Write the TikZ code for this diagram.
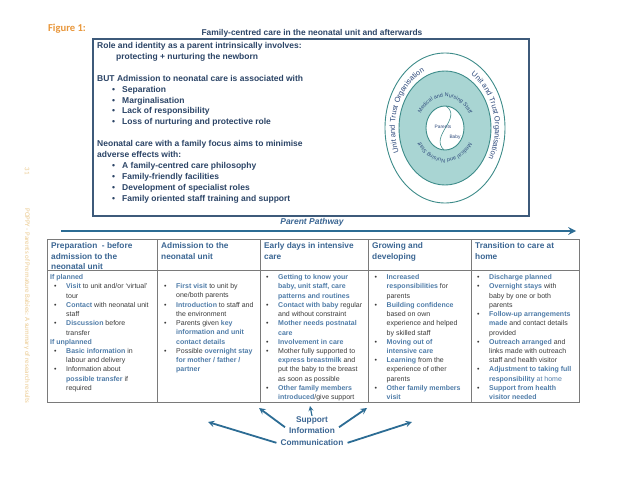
\documentclass[tikz,border=0pt]{standalone}
\usepackage{fontspec}
\setmainfont{Liberation Sans}
\newfontfamily\calfont{Carlito}
\usetikzlibrary{positioning,decorations.text}

\definecolor{navy}{HTML}{2B4466}
\definecolor{frameblue}{HTML}{3D5A7A}
\definecolor{hdrblue}{HTML}{3A6592}
\definecolor{keyblue}{HTML}{4F7CA8}
\definecolor{bodygray}{HTML}{3A3A3A}
\definecolor{gridgray}{HTML}{7A7A7A}
\definecolor{ringteal}{HTML}{3E8C8A}
\definecolor{ringfill}{HTML}{A9D5D3}
\definecolor{ringtext}{HTML}{2E4A7C}
\definecolor{pathblue}{HTML}{2C6C94}
\definecolor{figorange}{HTML}{E8963A}
\definecolor{sidetan}{HTML}{EBCB92}

\newcommand{\kw}[1]{\textcolor{keyblue}{\bfseries #1}}
\newcommand{\bi}{\hspace*{6pt}\makebox[12pt][l]{\textbullet}}
\newcommand{\ci}{\hspace*{18pt}}
\newcommand{\tb}{\hspace*{15pt}\makebox[10pt][l]{\textbullet}}
\newcommand{\rfo}{\fontsize{7.5}{8}\selectfont\color{ringtext}}
\newcommand{\rfi}{\fontsize{5.4}{6}\selectfont\color{ringtext}}

\begin{document}
\begin{tikzpicture}[%
    x=1pt, y=-1pt,
    >=stealth,
    every node/.style={inner sep=0pt},
    boxtext/.style={anchor=north west, align=left, text=navy,
        font=\fontsize{8.5}{10.93}\selectfont\bfseries},
    hdr/.style={anchor=north west, align=left, text=hdrblue,
        font=\fontsize{8.3}{10.8}\selectfont\bfseries},
    cell/.style={anchor=north west, align=left, text=bodygray,
        font=\fontsize{7}{9.23}\selectfont},
    grid/.style={draw=gridgray, line width=0.8pt},
    ring/.style={draw=ringteal, line width=0.9pt},
    flow/.style={->, draw=pathblue, line width=1.8pt},
    hub/.style={text=hdrblue, font=\fontsize{8.3}{10}\selectfont\bfseries,
        inner xsep=4pt, text height=6.2pt, text depth=1.8pt},
    ringlbl/.style={decorate, decoration={text along path,
        text align=center, text={#1}}}
]
\useasboundingbox (0,0) rectangle (638,479);

% margin notes
\node[text=figorange, font=\calfont\fontsize{10.6}{12}\selectfont\bfseries] (fig) at (67,29) {Figure 1:};
\node[rotate=-90, text=sidetan, font=\calfont\fontsize{7}{8}\selectfont] (pageno) at (27,171) {31};
\node[rotate=-90, text=sidetan, font=\calfont\fontsize{7}{8}\selectfont] (source) at (27,306)
    {POPPY - Parents of Premature Babies: A summary of research results};

% title and upper box
\node[text=navy, font=\fontsize{8.4}{10}\selectfont\bfseries] (title) at (312,33)
    {Family-centred care in the neonatal unit and afterwards};
\node[draw=frameblue, line width=1.8pt, anchor=north west,
      minimum width=436pt, minimum height=177pt] (rolebox) at (92,38) {};

\node[boxtext] (role) at (97,41.9)
    {Role and identity as a parent intrinsically involves:\\
     \hspace*{19pt}protecting + nurturing the newborn};
\node[boxtext] (risks) at (97,74.8)
    {BUT Admission to neonatal care is associated with\\
     \tb Separation\\
     \tb Marginalisation\\
     \tb Lack of responsibility\\
     \tb Loss of nurturing and protective role};
\node[boxtext] (aims) at (97,140.6)
    {Neonatal care with a family focus aims to minimise\\
     adverse effects with:\\
     \tb A family-centred care philosophy\\
     \tb Family-friendly facilities\\
     \tb Development of specialist roles\\
     \tb Family oriented staff training and support};

% rings: organisation / staff / family
\begin{scope}[shift={(445,128)}]
  \draw[ring, fill=white] (0,0) ellipse [x radius=60, y radius=75];
  \draw[ring, fill=ringfill] (0,0) ellipse [x radius=46, y radius=57];
  \draw[ring, fill=white] (0,0) ellipse [x radius=19, y radius=22];
  \path[ringlbl={|\rfo|Unit and Trust Organisation}]
    (136:50 and 62) arc [start angle=136, end angle=270, x radius=50, y radius=62];
  \path[ringlbl={|\rfo|Unit and Trust Organisation}]
    (-83:50 and 62) arc [start angle=-83, end angle=51, x radius=50, y radius=62];
  \path[ringlbl={|\rfi|Medical and Nursing Staff}]
    (-170:27 and 31) arc [start angle=-170, end angle=-10, x radius=27, y radius=31];
  \path[ringlbl={|\rfi|Medical and Nursing Staff}]
    (10:27 and 31) arc [start angle=10, end angle=170, x radius=27, y radius=31];
  \draw[ring, line width=0.6pt] (1,-22) .. controls (18,-10) and (-16,8) .. (-1,22);
\end{scope}
\node[text=ringtext, font=\fontsize{4.8}{6}\selectfont] (parents) at (443,127) {Parents};
\node[text=ringtext, font=\fontsize{4.8}{6}\selectfont] (baby) at (455,137) {Baby};

% parent pathway
\node[text=hdrblue, font=\fontsize{8.5}{10}\selectfont\bfseries\itshape] (pathlbl) at (312,222) {Parent Pathway};
\coordinate (pp0) at (61,231);
\coordinate (pp1) at (576,231);
\draw[->, draw=pathblue, line width=2.4pt] (pp0) -- (pp1);

% table grid
\draw[grid] (47,239) rectangle (579,402);
\draw[grid] (47,270.5) -- (579,270.5);
\foreach \x in {157,260,368,471}
    \draw[grid] (\x,239) -- (\x,402);

% headers
\node[hdr] (h1) at (51,242) {Preparation\ \ - before\\admission to the\\neonatal unit};
\node[hdr] (h2) at (161,242) {Admission to the\\neonatal unit};
\node[hdr] (h3) at (264,242) {Early days in intensive\\care};
\node[hdr] (h4) at (372,242) {Growing and\\developing};
\node[hdr] (h5) at (475,242) {Transition to care at\\home};

% stage contents
\node[cell] (c1) at (48,274.4)
    {\hspace*{2pt}\kw{If planned}\\
     \bi\kw{Visit} to unit and/or `virtual'\\
     \ci tour\\
     \bi\kw{Contact} with neonatal unit\\
     \ci staff\\
     \bi\kw{Discussion} before\\
     \ci transfer\\
     \hspace*{2pt}\kw{If unplanned}\\
     \bi\kw{Basic information} in\\
     \ci labour and delivery\\
     \bi Information about\\
     \ci\kw{possible transfer} if\\
     \ci required};
\node[cell] (c2) at (158,283.4)
    {\bi\kw{First visit} to unit by\\
     \ci one/both parents\\
     \bi\kw{Introduction} to staff and\\
     \ci the environment\\
     \bi Parents given \kw{key}\\
     \ci\kw{information and unit}\\
     \ci\kw{contact details}\\
     \bi Possible \kw{overnight stay}\\
     \ci\kw{for mother / father /}\\
     \ci\kw{partner}};
\node[cell] (c3) at (260,274.4)
    {\bi\kw{Getting to know your}\\
     \ci\kw{baby, unit staff, care}\\
     \ci\kw{patterns and routines}\\
     \bi\kw{Contact with baby} regular\\
     \ci and without constraint\\
     \bi\kw{Mother needs postnatal}\\
     \ci\kw{care}\\
     \bi\kw{Involvement in care}\\
     \bi Mother fully supported to\\
     \ci\kw{express breastmilk} and\\
     \ci put the baby to the breast\\
     \ci as soon as possible\\
     \bi\kw{Other family members}\\
     \ci\kw{introduced}/give support};
\node[cell] (c4) at (368.5,274.4)
    {\bi\kw{Increased}\\
     \ci\kw{responsibilities} for\\
     \ci parents\\
     \bi\kw{Building confidence}\\
     \ci based on own\\
     \ci experience and helped\\
     \ci by skilled staff\\
     \bi\kw{Moving out of}\\
     \ci\kw{intensive care}\\
     \bi\kw{Learning} from the\\
     \ci experience of other\\
     \ci parents\\
     \bi\kw{Other family members}\\
     \ci\kw{visit}};
\node[cell] (c5) at (471,274.4)
    {\bi\kw{Discharge planned}\\
     \bi\kw{Overnight stays} with\\
     \ci baby by one or both\\
     \ci parents\\
     \bi\kw{Follow-up arrangements}\\
     \ci\kw{made} and contact details\\
     \ci provided\\
     \bi\kw{Outreach arranged} and\\
     \ci links made with outreach\\
     \ci staff and health visitor\\
     \bi\kw{Adjustment to taking full}\\
     \ci\kw{responsibility} \textcolor{keyblue}{at home}\\
     \bi\kw{Support from health}\\
     \ci\kw{visitor needed}};

% support hub
\node[hub] (sup) at (312,420) {Support};
\node[hub, below=3pt of sup] (inf) {Information};
\node[hub, below=3pt of inf] (com) {Communication};

\coordinate (t0) at (310,406);
\coordinate (t1) at (259,408);
\coordinate (t2) at (367,408);
\coordinate (t3) at (208,422);
\coordinate (t4) at (412,422);
\draw[flow, line width=1.2pt] (sup.north) -- (t0);
\draw[flow] (inf.north west) -- (t1);
\draw[flow] (inf.north east) -- (t2);
\draw[flow] (com.west) -- (t3);
\draw[flow] (com.east) -- (t4);

\end{tikzpicture}
\end{document}
